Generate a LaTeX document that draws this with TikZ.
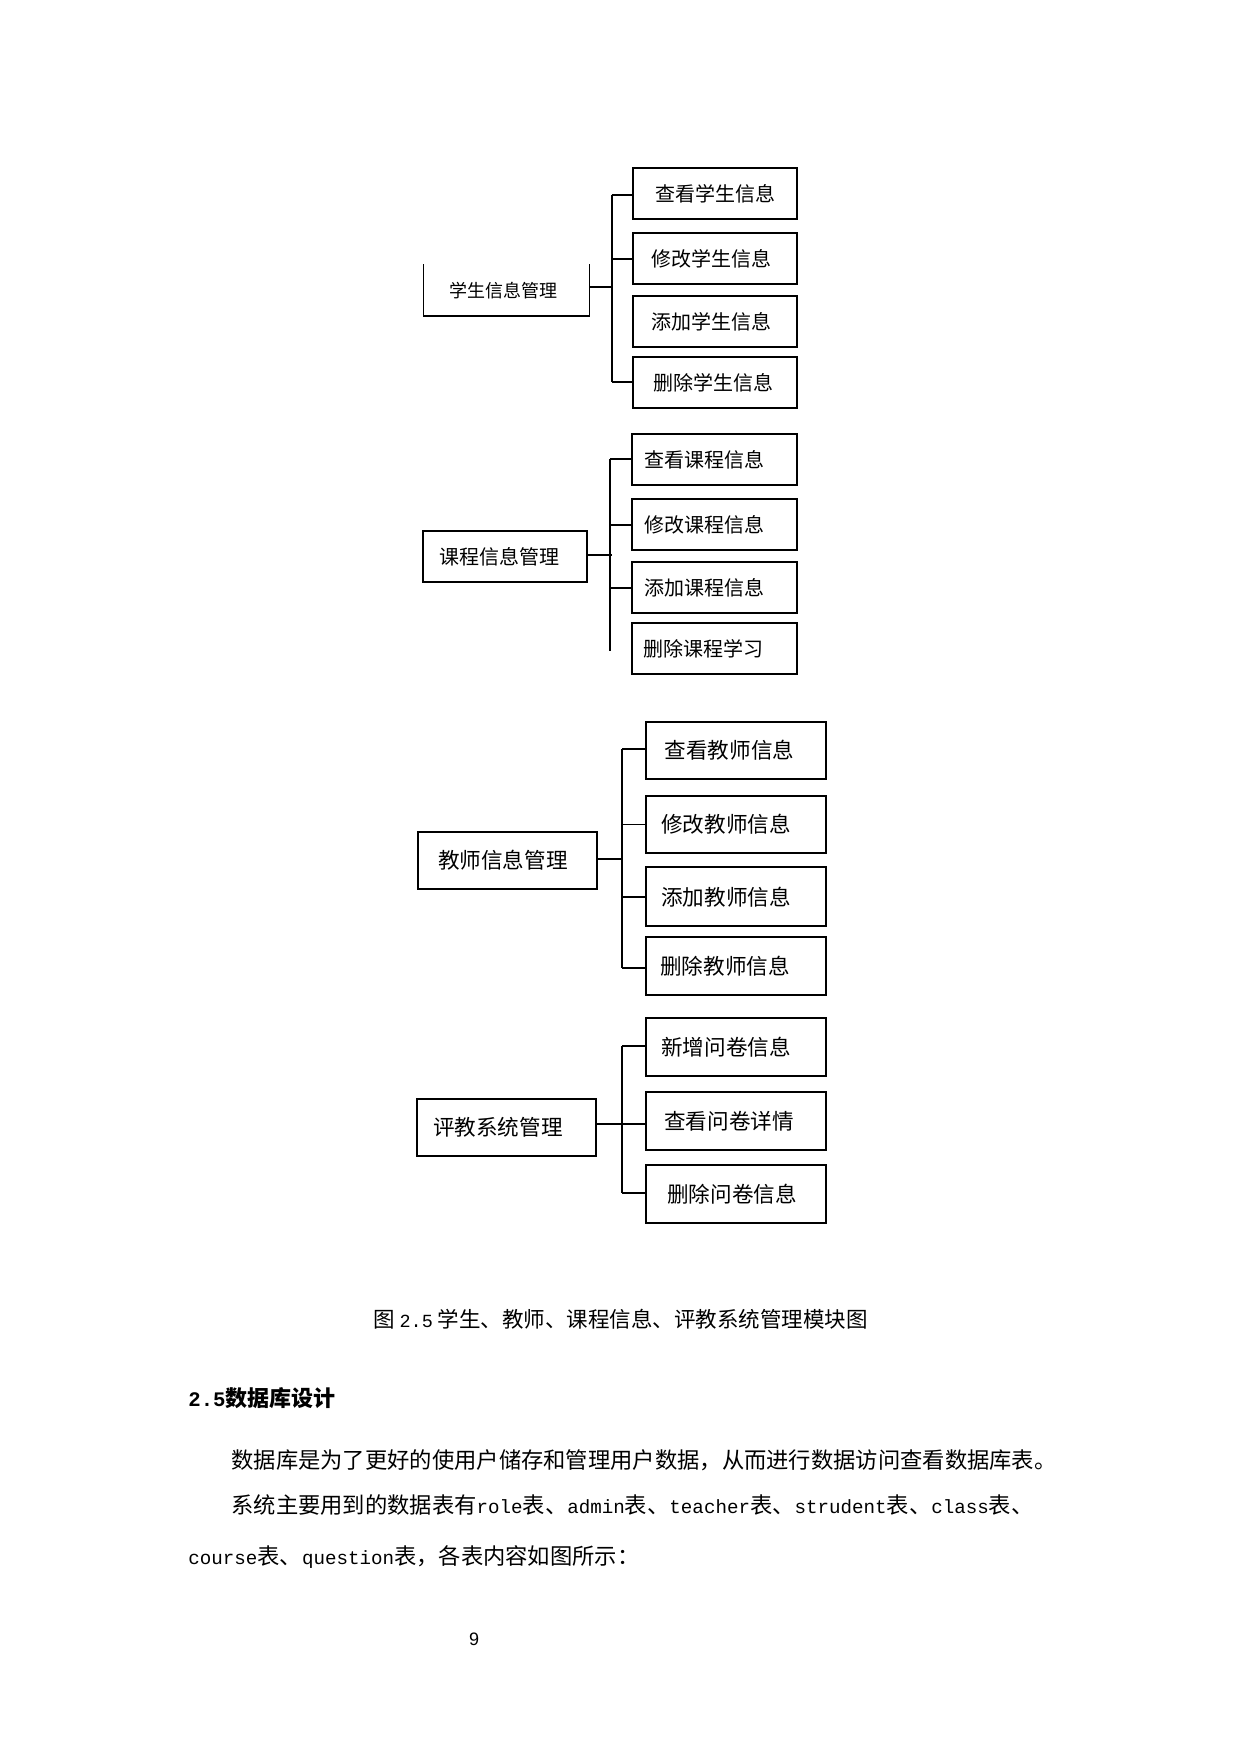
\documentclass[tikz,border=0pt]{standalone}
\usepackage{fontspec}
\newfontfamily\cjk{Noto Sans CJK SC}
\newfontfamily\lat{Liberation Mono}[Scale=0.86]
\newfontfamily\sns{Liberation Sans}
\newcommand\lft[2]{\hspace*{-#1pt}#2}
\tikzset{
  cj/.style={font=\cjk\fontsize{#1}{#1}\selectfont, text height=0.88*#1, text depth=0.12*#1},
  sz/.style 2 args={minimum width=#1*0.5pt, minimum height=#2*0.5pt},
  box/.style={draw, rectangle, inner sep=0pt, line width=0.85pt},
  ln/.style={line width=0.85pt},
  txt/.style={inner sep=0pt, anchor=west},
}
\begin{document}
\begin{tikzpicture}[x=0.5pt,y=-0.5pt]
\fill[white] (0,0) rectangle (1240,1754);
\useasboundingbox (0,0) rectangle (1240,1754);

% ---------- group 1 ----------
\node[box, draw=none, sz={164.4}{50.3}, cj=9pt] (P1) at (506.5,290.2) {\lft{3.5}{学生信息管理}};
\draw[ln] (P1.north west) -- (P1.south west) -- (P1.south east) -- (P1.north east);
\node[box, sz={164}{51}, cj=10pt] (A1) at (715.3,193.8) {查看学生信息};
\node[box, sz={164}{51}, cj=10pt] (A2) at (715.3,258.8) {\lft{4}{修改学生信息}};
\node[box, sz={164}{51}, cj=10pt] (A3) at (715.3,321.7) {\lft{4}{添加学生信息}};
\node[box, sz={164}{51}, cj=10pt] (A4) at (715.3,382.8) {\lft{2}{删除学生信息}};
\coordinate (T1) at (611.7,195);
\coordinate (U1) at (611.7,382.3);
\coordinate (J1) at (611.7,286.7);
\draw[ln] (T1) -- (U1);
\draw[ln] (T1) -- (A1.west |- T1);
\draw[ln] (T1 |- A2.west) -- ([xshift=1pt]A2.west);
\draw[ln] (U1) -- (A4.west |- U1);
\draw[ln] (P1.east |- J1) -- (J1);

% ---------- group 2 ----------
\node[box, sz={164}{50.4}, cj=10pt] (P2) at (505.3,556.5) {\lft{6}{课程信息管理}};
\node[box, sz={164.4}{51}, cj=10pt] (B1) at (714.5,459.8) {\lft{10}{查看课程信息}};
\node[box, sz={164.4}{51}, cj=10pt] (B2) at (714.5,524.7) {\lft{10}{修改课程信息}};
\node[box, sz={164.4}{51}, cj=10pt] (B3) at (714.5,587.8) {\lft{10}{添加课程信息}};
\node[box, sz={164.4}{51}, cj=10pt] (B4) at (714.5,648.8) {\lft{11}{删除课程学习}};
\coordinate (T2) at (610.3,459);
\coordinate (U2) at (610.3,650.7);
\coordinate (J2) at (611.7,555);
\draw[ln] (T2) -- (U2);
\draw[ln] (T2) -- (B1.west |- T2);
\draw[ln] (T2 |- B2.west) -- (B2.west);
\draw[ln] (T2 |- B3.west) -- (B3.west);
\draw[ln] (P2.east |- J2) -- (J2);

% ---------- group 3 ----------
\node[box, sz={179}{57.6}, cj=10.8pt] (P3) at (507.8,860.5) {\lft{5}{教师信息管理}};
\node[box, sz={179.4}{57.6}, cj=10.8pt] (C1) at (736,750.5) {\lft{6.5}{查看教师信息}};
\node[box, sz={179.4}{57.6}, cj=10.8pt] (C2) at (736,824.5) {\lft{10}{修改教师信息}};
\node[box, sz={179.4}{59}, cj=10.8pt] (C3) at (736,896.8) {\lft{10}{添加教师信息}};
\node[box, sz={179.4}{58}, cj=10.8pt] (C4) at (736,966.3) {\lft{11}{删除教师信息}};
\coordinate (T3) at (622.3,749.3);
\coordinate (U3) at (622.3,968);
\coordinate (J3) at (622.3,859.3);
\draw[ln] (T3) -- (U3);
\draw[ln] (T3) -- (C1.west |- T3);
\draw[ln] (T3 |- C2.west) -- (C2.west);
\draw[ln] (T3 |- C3.west) -- (C3.west);
\draw[ln] (U3) -- (C4.west |- U3);
\draw[ln] (P3.east |- J3) -- (J3);

% ---------- group 4 ----------
\node[box, sz={179}{57.3}, cj=10.8pt] (P4) at (506.8,1127.3) {\lft{9}{评教系统管理}};
\node[box, sz={179.4}{58}, cj=10.8pt] (D1) at (736,1047.3) {\lft{10}{新增问卷信息}};
\node[box, sz={179.4}{58}, cj=10.8pt] (D2) at (736,1121.3) {\lft{7}{查看问卷详情}};
\node[box, sz={179.4}{58}, cj=10.8pt] (D3) at (736,1194) {\lft{4}{删除问卷信息}};
\coordinate (T4) at (622.3,1046);
\coordinate (U4) at (622.3,1193.3);
\coordinate (J4) at (622.3,1124.3);
\draw[ln] (T4) -- (U4);
\draw[ln] (T4) -- (D1.west |- T4);
\draw[ln] (U4) -- (D3.west |- U4);
\draw[ln] (P4.east |- J4) -- (D2.west |- J4);

% ---------- caption and text ----------
\node[inner sep=0pt, cj=10.75pt] (cap) at (620.5,1319.3) {图\hspace{2.5pt}{\lat 2.5}\hspace{2.5pt}学生、教师、课程信息、评教系统管理模块图};
\node[txt, cj=11pt] (hd) at (188,1398.3) {\bfseries{\lat\fontsize{12pt}{12pt}\selectfont 2.5}数据库设计};
\node[txt, cj=11.15pt] (l1) at (231,1460) {数据库是为了更好的使用户储存和管理用户数据，从而进行数据访问查看数据库表。};
\node[txt, cj=11.15pt] (l2) at (231,1505) {系统主要用到的数据表有{\lat role}表、{\lat admin}表、{\lat teacher}表、{\lat strudent}表、{\lat class}表、};
\node[txt, cj=11.15pt] (l3) at (188,1556) {{\lat course}表、{\lat question}表，各表内容如图所示：};
\node[inner sep=0pt, font=\sns\fontsize{9pt}{9pt}\selectfont] (pg) at (474,1639.3) {9};
\end{tikzpicture}
\end{document}
